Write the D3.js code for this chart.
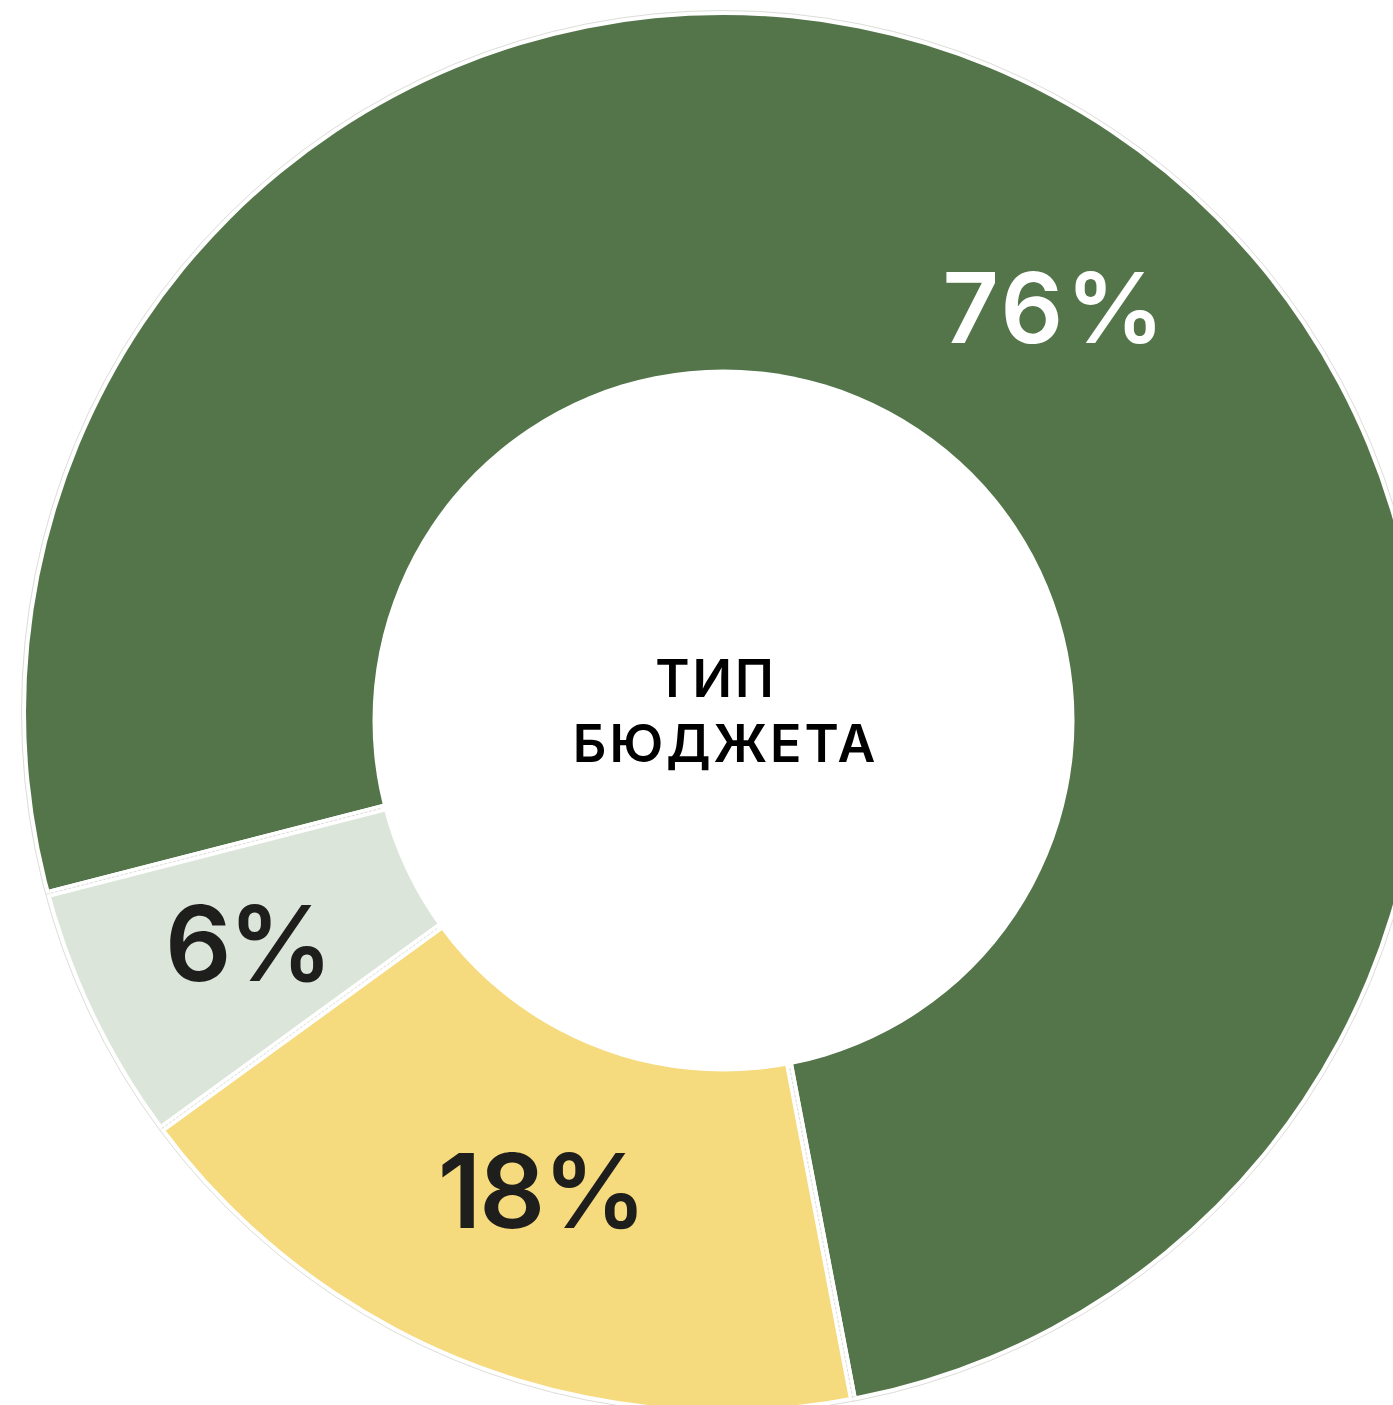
<!DOCTYPE html>
<html><head><meta charset="utf-8">
<script src="https://cdn.jsdelivr.net/npm/d3@7"></script>
<style>html,body{margin:0;padding:0;background:#fff;overflow:hidden}</style>
</head><body>
<svg id="c" width="1393" height="1405"></svg>
<script>
const categories = ["Green", "Yellow", "Light"];
const values = [76, 18, 6];
const labels = ["76%", "18%", "6%"];
const colors = ["#537549", "#F6DA7E", "#DCE5DA"];
const labelColors = ["#ffffff", "#1e1e1c", "#1e1e1c"];
const centerLines = ["ТИП", "БЮДЖЕТА"];

const svg = d3.select("#c");
// inner hole centre and outer rim centre (the rim is slightly offset)
const cx = 723.5, cy = 720.5, r0 = 351;
const ox = 723, oy = 712, R = 697;
const deg = Math.PI / 180;
const start = 255.6 * deg;

const pie = d3.pie().sort(null).startAngle(start).endAngle(start + 2 * Math.PI);
const pieData = pie(values);

const defs = svg.append("defs");
defs.append("clipPath").attr("id", "rim")
  .append("circle").attr("cx", ox).attr("cy", oy).attr("r", R);
defs.append("clipPath").attr("id", "rim2")
  .append("circle").attr("cx", ox).attr("cy", oy).attr("r", R + 4.5);

const wedge = d3.arc().innerRadius(0).outerRadius(820);

const gFill = svg.append("g").attr("clip-path", "url(#rim)")
  .append("g").attr("transform", `translate(${cx},${cy})`);
gFill.selectAll("path").data(pieData).join("path")
  .attr("d", wedge).attr("fill", (d, i) => colors[i])
  .attr("stroke", "#fff").attr("stroke-width", 8).attr("stroke-linejoin", "miter");

// thin grey outlines: rim and radial separators
svg.append("circle").attr("cx", ox).attr("cy", oy).attr("r", R + 4.5)
  .attr("fill", "none").attr("stroke", "#d8d8d4").attr("stroke-width", 0.9);
const gLines = svg.append("g").attr("clip-path", "url(#rim2)")
  .append("g").attr("transform", `translate(${cx},${cy})`);
gLines.selectAll("line").data(pieData).join("line")
  .attr("x1", d => (r0 + 3) * Math.sin(d.startAngle))
  .attr("y1", d => -(r0 + 3) * Math.cos(d.startAngle))
  .attr("x2", d => 820 * Math.sin(d.startAngle))
  .attr("y2", d => -820 * Math.cos(d.startAngle))
  .attr("stroke", "#d8d8d4").attr("stroke-width", 0.9)
  .attr("stroke-dasharray", "3,1.5");

// hole
svg.append("circle").attr("cx", cx).attr("cy", cy).attr("r", r0).attr("fill", "#fff");

const g = svg.append("g").attr("transform", `translate(${cx},${cy})`);
const labelShift = [6.2, 0, 0.2];
const labelRadius = [529, 506, 528];
const labelNudge = [0, 5, 4];
const sizes = [98, 103, 104];
const spacing = [3, -2, -3];
g.selectAll("text.l").data(pieData).join("text").attr("class", "l")
  .attr("transform", (d, i) => {
    const a = (d.startAngle + d.endAngle) / 2 + labelShift[i] * deg;
    const rr = labelRadius[i];
    return `translate(${rr * Math.sin(a) + spacing[i] / 2 + labelNudge[i]},${-rr * Math.cos(a)})`;
  })
  .attr("y", (d, i) => sizes[i] * 0.727 / 2)
  .attr("text-anchor", "middle")
  .attr("font-family", "Inter, 'Open Sans', sans-serif")
  .attr("font-weight", 600)
  .attr("font-size", (d, i) => sizes[i])
  .attr("letter-spacing", (d, i) => spacing[i])
  .attr("fill", (d, i) => labelColors[i])
  .text((d, i) => labels[i]);

const ct = g.append("text").attr("text-anchor", "middle")
  .attr("font-family", "Inter, 'Open Sans', sans-serif")
  .attr("font-weight", 600).attr("font-size", 52).attr("fill", "#000")
  .attr("letter-spacing", 3);
ct.append("tspan").attr("x", -7.5).attr("y", -23.5).text(centerLines[0]);
ct.append("tspan").attr("x", 2).attr("y", 41.5).text(centerLines[1]);
</script>
</body></html>
